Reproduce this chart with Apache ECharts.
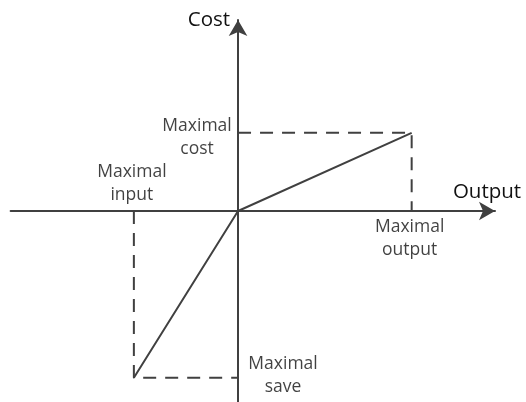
<!DOCTYPE html>
<html><head><meta charset="utf-8">
<script src="https://cdn.jsdelivr.net/npm/echarts@6/dist/echarts.min.js"></script>
<style>html,body{margin:0;padding:0;background:#fff}#c{width:526px;height:402px}</style>
</head><body><div id="c"></div>
<script>
// Schematic values (arbitrary units)
const maxOutput = 10;
const maxInput = -6;
const maxCost = 4.5;
const maxSave = -9.6;
const xRange = [-13.1, 14.8];
const yRange = [-11, 11];
const axisNames = ['Output', 'Cost'];
const pointLabels = ['Maximal\ncost', 'Maximal\ninput', 'Maximal\noutput', 'Maximal\nsave'];

const lineColor = '#404040';
const textColor = '#111111';
const font = '"Open Sans", sans-serif';

const chart = echarts.init(document.getElementById('c'));
const dashed = { color: lineColor, width: 2, type: [13, 9] };
chart.setOption({
  animation: false,
  grid: { left: 10.6, right: 31, top: 20, bottom: 0, containLabel: false },
  xAxis: {
    type: 'value', min: xRange[0], max: xRange[1],
    name: axisNames[0], nameLocation: 'end', nameGap: -8,
    nameTextStyle: { fontFamily: font, fontSize: 20.5, color: textColor, align: 'center', verticalAlign: 'bottom', padding: [0, 0, 8, 0] },
    axisLine: { onZero: true, symbol: ['none', 'arrow'], symbolSize: [14, 16], lineStyle: { color: lineColor, width: 2 } },
    axisTick: { show: false }, axisLabel: { show: false }, splitLine: { show: false }
  },
  yAxis: {
    type: 'value', min: yRange[0], max: yRange[1],
    name: axisNames[1], nameLocation: 'end', nameGap: 0,
    nameTextStyle: { fontFamily: font, fontSize: 20.5, color: textColor, align: 'right', verticalAlign: 'middle', padding: [0, 8, 0, 0] },
    axisLine: { onZero: true, symbol: ['none', 'arrow'], symbolSize: [14, 16], lineStyle: { color: lineColor, width: 2 } },
    axisTick: { show: false }, axisLabel: { show: false }, splitLine: { show: false }
  },
  series: [
    { type: 'line', symbol: 'none', lineStyle: dashed, z: 1,
      data: [[0, maxCost], [maxOutput, maxCost], [maxOutput, 0]] },
    { type: 'line', symbol: 'none', lineStyle: dashed, z: 1,
      data: [[maxInput, 0], [maxInput, maxSave], [0, maxSave]] },
    { type: 'line', symbol: 'none', lineStyle: { color: lineColor, width: 2 }, z: 2,
      data: [[maxInput, maxSave], [0, 0], [maxOutput, maxCost]] },
    { type: 'scatter', symbolSize: 0, z: 3,
      label: { show: true, position: 'inside', fontFamily: font, fontSize: 17.5, color: textColor, lineHeight: 23, align: 'center', verticalAlign: 'middle' },
      data: [
        { value: [0, maxCost], label: { formatter: pointLabels[0], offset: [-41, 5] } },
        { value: [maxInput, 0], label: { formatter: pointLabels[1], offset: [-2, -27] } },
        { value: [maxOutput, 0], label: { formatter: pointLabels[2], offset: [-2, 27.5] } },
        { value: [0, maxSave], label: { formatter: pointLabels[3], offset: [45, -2.5] } }
      ] }
  ]
});
</script></body></html>
